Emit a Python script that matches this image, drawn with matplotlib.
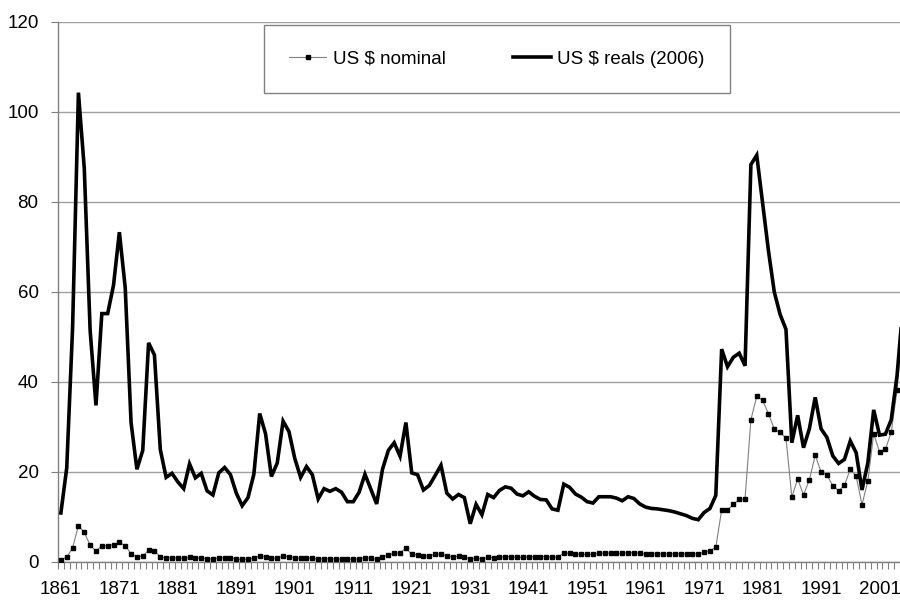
import numpy as np
import matplotlib.pyplot as plt
from matplotlib.ticker import MultipleLocator

years = np.arange(1861, 2007)

nominal = [
    0.49, 1.05, 3.15, 8.06, 6.59, 3.74, 2.41, 3.63, 3.64, 3.86,
    4.34, 3.64, 1.83, 1.17, 1.35, 2.56, 2.42, 1.19, 0.86, 0.95,
    0.86, 0.78, 1.00, 0.84, 0.88, 0.71, 0.67, 0.88, 0.94, 0.87,
    0.67, 0.56, 0.64, 0.84, 1.36, 1.18, 0.79, 0.91, 1.29, 1.19,
    0.96, 0.80, 0.94, 0.86, 0.62, 0.73, 0.72, 0.72, 0.70, 0.61,
    0.61, 0.74, 0.95, 0.81, 0.64, 1.10, 1.56, 1.98, 2.01, 3.07,
    1.73, 1.61, 1.34, 1.43, 1.68, 1.88, 1.30, 1.17, 1.27, 1.19,
    0.65, 0.87, 0.67, 1.00, 0.97, 1.09, 1.18, 1.13, 1.02, 1.02,
    1.14, 1.19, 1.20, 1.21, 1.05, 1.12, 1.90, 1.99, 1.78, 1.71,
    1.71, 1.71, 1.93, 1.93, 1.93, 1.93, 1.90, 2.08, 2.08, 1.90,
    1.80, 1.80, 1.80, 1.80, 1.80, 1.80, 1.80, 1.80, 1.80, 1.80,
    2.24, 2.48, 3.29, 11.58, 11.53, 12.80, 13.92, 14.02, 31.61, 36.83,
    35.93, 32.97, 29.55, 28.78, 27.56, 14.43, 18.44, 14.92, 18.23, 23.73,
    20.00, 19.32, 16.97, 15.82, 17.02, 20.67, 19.09, 12.72, 17.97, 28.50,
    24.44, 25.02, 28.83, 38.27, 54.52, 65.14,
]

real_2006 = [
    10.9, 20.9, 52.0, 104.3, 87.5, 51.5, 34.8, 55.2, 55.2, 61.5,
    73.3, 61.0, 31.0, 20.6, 24.8, 48.7, 46.0, 25.0, 18.8, 19.7,
    17.8, 16.3, 21.8, 18.7, 19.7, 15.8, 14.9, 19.8, 21.0, 19.4,
    15.3, 12.5, 14.3, 19.5, 33.0, 28.5, 19.0, 22.0, 31.3, 29.0,
    23.0, 18.8, 21.2, 19.4, 14.0, 16.3, 15.7, 16.3, 15.5, 13.4,
    13.4, 15.5, 19.5, 16.2, 12.9, 20.6, 24.8, 26.5, 23.5, 31.0,
    19.8, 19.4, 16.0, 17.0, 19.2, 21.5, 15.3, 14.0, 15.0, 14.3,
    8.5, 12.8, 10.5, 15.0, 14.3, 15.9, 16.7, 16.4, 15.1, 14.7,
    15.6, 14.6, 13.9, 13.8, 11.8, 11.5, 17.3, 16.6, 15.1, 14.4,
    13.4, 13.1, 14.5, 14.5, 14.5, 14.2, 13.6, 14.5, 14.1, 12.9,
    12.2, 11.9, 11.8, 11.6, 11.4, 11.1, 10.7, 10.3, 9.7, 9.4,
    11.0, 11.9, 14.8, 47.3, 43.4, 45.5, 46.4, 43.6, 88.3, 90.4,
    79.9, 69.2, 60.0, 55.0, 51.7, 26.5, 32.6, 25.4, 29.6, 36.6,
    29.6, 27.7, 23.6, 21.9, 22.8, 26.9, 24.3, 16.0, 22.0, 33.8,
    28.2, 28.4, 31.6, 41.5, 56.9, 65.1,
]

label_years = np.arange(1861, 2004, 10)

plt.rcParams['font.family'] = ['Liberation Sans', 'DejaVu Sans']

fig = plt.figure(figsize=(9, 6.01), dpi=100)
ax = fig.add_axes([0.0644, 0.0649, 0.9356, 0.8985])

ax.plot(years, nominal, color='#808080', lw=0.8, marker='s', ms=2.2,
        mfc='black', mec='black', label='US $ nominal', zorder=3)
ax.plot(years, real_2006, color='black', lw=2.6, label='US $ reals (2006)',
        zorder=4, solid_joinstyle='miter')

ax.set_xlim(1860.5, 2004.45)
ax.set_ylim(0, 120)
ax.yaxis.set_major_locator(MultipleLocator(20))
ax.set_xticks(label_years)
ax.set_xticks(np.arange(1860.5, 2005, 1), minor=True)
ax.tick_params(axis='x', which='major', length=0, pad=14, labelsize=13.5)
ax.tick_params(axis='x', which='minor', length=5, color='#808080', width=0.8)
ax.tick_params(axis='y', length=5, color='#808080', width=0.8, pad=9,
               labelsize=13.5)

ax.grid(axis='y', color='#a0a0a0', lw=1)
ax.set_axisbelow(True)
for side in ['top', 'right']:
    ax.spines[side].set_visible(False)
for side in ['left', 'bottom']:
    ax.spines[side].set_color('#808080')
    ax.spines[side].set_linewidth(1)

leg = fig.legend(loc='upper center', bbox_to_anchor=(0.552, 0.958), ncol=2,
                 fontsize=13.5, frameon=True, fancybox=False, framealpha=1,
                 edgecolor='#808080', borderpad=1.35, handlelength=2.0,
                 handletextpad=0.35, columnspacing=3.6, borderaxespad=0)
leg.get_frame().set_linewidth(1)

fig.savefig('out.png', dpi=100)
